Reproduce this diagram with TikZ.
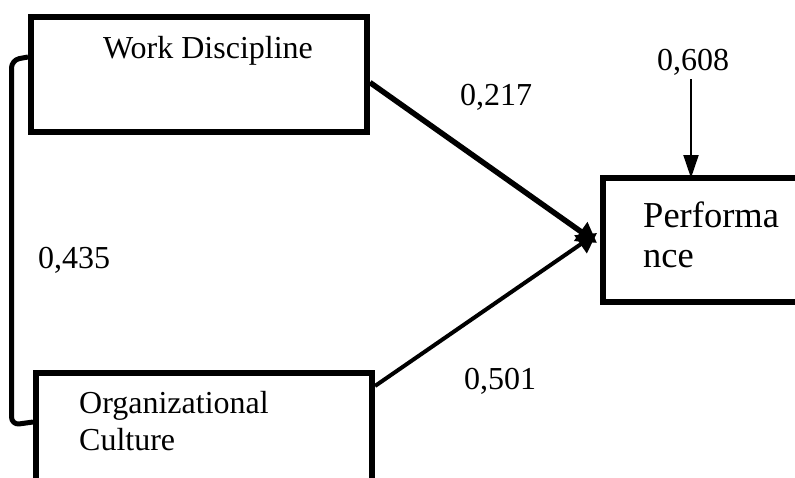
\documentclass[tikz,border=0pt]{standalone}
\usepackage{fontspec}
\setmainfont{Liberation Serif}
\usetikzlibrary{arrows.meta}
\begin{document}
\begin{tikzpicture}[x=1pt,y=-1pt,
  boxstyle/.style={draw=black,line width=6pt,rectangle,inner sep=0pt,fill=white},
  lbl/.style={font=\fontsize{32}{37}\selectfont,anchor=base,inner sep=0pt},
  biglbl/.style={font=\fontsize{36.5}{40}\selectfont,anchor=base west,inner sep=0pt},
  conn/.style={line width=5pt,line join=round}]
\useasboundingbox (0,0) rectangle (795,477);
\clip (0,0) rectangle (795,477);
% boxes
\node[boxstyle,minimum width=336pt,minimum height=115pt] (wd) at (199,74.5) {};
\node[boxstyle,minimum width=336pt,minimum height=130pt] (oc) at (204,438) {};
\node[boxstyle,minimum width=220pt,minimum height=124pt] (pf) at (713,240) {};
% texts
\node[lbl] (wdt) at (208,58) {Work Discipline};
\node[lbl,anchor=base west] (oct1) at (79,413) {Organizational};
\node[lbl,anchor=base west] (oct2) at (79,450) {Culture};
\node[biglbl] (pft1) at (643,227) {Performa};
\node[biglbl] (pft2) at (643,267) {nce};
% labels
\node[lbl] (l217) at (496,105) {0,217};
\node[lbl] (l435) at (74,268) {0,435};
\node[lbl] (l501) at (500,389) {0,501};
\node[lbl] (l608) at (693,70) {0,608};
% coordinates
\coordinate (a1s) at ([yshift=-8pt]wd.east);
\coordinate (a1e) at ([xshift=-3pt,yshift=-3pt]pf.west);
\coordinate (a2s) at ([yshift=-16pt]oc.north east);
\coordinate (a2e) at ([xshift=-3pt,yshift=7pt]pf.west);
\coordinate (bt) at ([yshift=-43pt]wd.north west);
\coordinate (bb) at ([yshift=-52pt]oc.north west);
% connectors
\draw[line width=5.5pt,-{Triangle[length=20pt,width=22pt]}] (wd.east |- a1s) -- (a1e);
\draw[line width=4pt,-{Triangle[length=20pt,width=21pt]}] (oc.east |- a2s) -- (a2e);
\draw[line width=2pt,-{Triangle[length=23pt,width=15pt]}] (691,79) -- ([yshift=-3pt]pf.north -| 691,0);
\draw[conn,rounded corners=8pt] (bt) -- (11.5,60) -- (11.5,425) -- (bb);
\end{tikzpicture}
\end{document}
